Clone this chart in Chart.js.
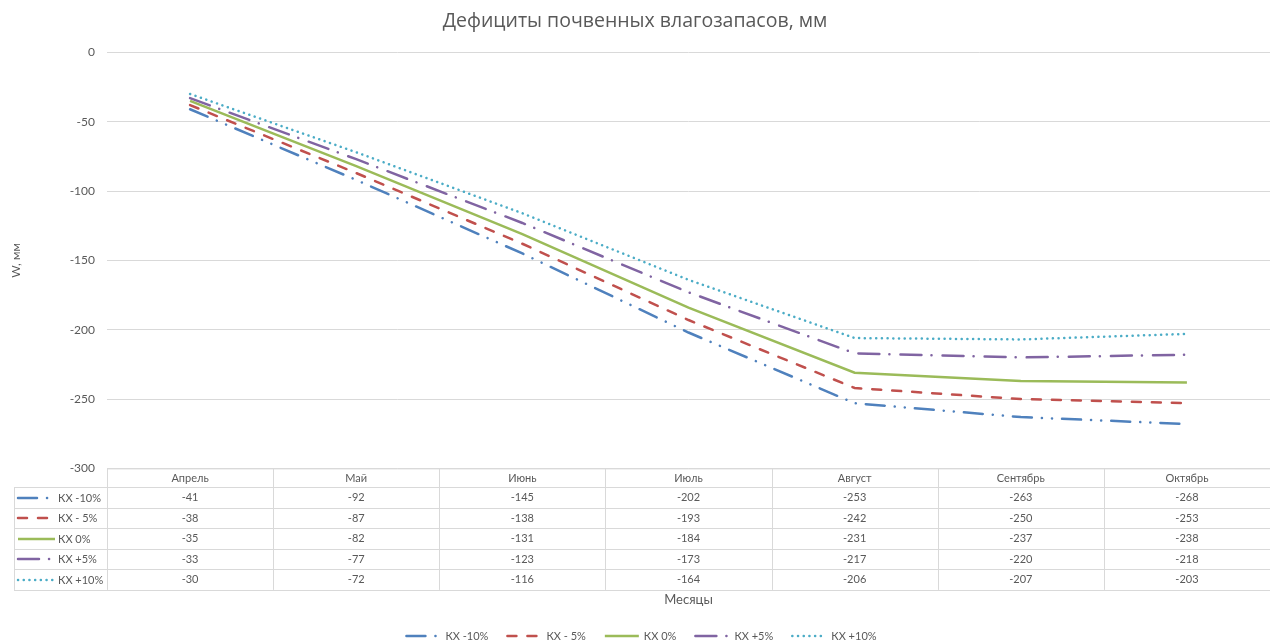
<!DOCTYPE html>
<html>
<head>
<meta charset="utf-8">
<script src="https://cdn.jsdelivr.net/npm/chart.js@4/dist/chart.umd.min.js"></script>
<style>
  html, body { margin: 0; padding: 0; background: #fff; }
</style>
</head>
<body>
<canvas id="deficitChart" width="1271" height="642"></canvas>
<script>
const months = ['Апрель', 'Май', 'Июнь', 'Июль', 'Август', 'Сентябрь', 'Октябрь'];
const seriesNames = ['КХ -10%', 'КХ - 5%', 'КХ 0%', 'КХ +5%', 'КХ +10%'];
const kxMinus10 = [-41, -92, -145, -202, -253, -263, -268];
const kxMinus5 = [-38, -87, -138, -193, -242, -250, -253];
const kx0 = [-35, -82, -131, -184, -231, -237, -238];
const kxPlus5 = [-33, -77, -123, -173, -217, -220, -218];
const kxPlus10 = [-30, -72, -116, -164, -206, -207, -203];

const colors = ['#4f81bd', '#c0504d', '#9bbb59', '#8064a2', '#4bacc6'];
const dashes = [[19, 10, 0.1, 10, 0.1, 10], [9, 11], [], [21, 10, 0.1, 11], [0.1, 5.6]];
const values = [kxMinus10, kxMinus5, kx0, kxPlus5, kxPlus10];

const textColor = '#595959';
const gridColor = '#d9d9d9';
const font = 'Lato, "Open Sans", sans-serif';

function drawKey(ctx, i, x0, x1, y) {
  ctx.save();
  ctx.strokeStyle = colors[i];
  ctx.lineWidth = 2.5;
  ctx.lineCap = dashes[i].length ? 'round' : 'butt';
  ctx.setLineDash(dashes[i]);
  ctx.beginPath();
  ctx.moveTo(x0, y);
  ctx.lineTo(x1, y);
  ctx.stroke();
  ctx.restore();
}

// data table under the plot, columns follow the x scale
const dataTable = {
  id: 'dataTable',
  afterDraw(chart) {
    const ctx = chart.ctx;
    const x = chart.scales.x;
    const area = chart.chartArea;
    const colW = (x.right - x.left) / months.length;
    const top = area.bottom;
    const headH = 19;
    const rowH = 20.5;
    const keyLeft = 14;
    const bottom = top + headH + rowH * seriesNames.length;

    ctx.save();
    ctx.strokeStyle = gridColor;
    ctx.lineWidth = 1;
    ctx.beginPath();
    ctx.moveTo(x.left, top + 0.5);
    ctx.lineTo(x.right, top + 0.5);
    for (let r = 0; r <= seriesNames.length; r++) {
      const y = Math.round(top + headH + r * rowH) + 0.5;
      ctx.moveTo(keyLeft, y);
      ctx.lineTo(x.right, y);
    }
    ctx.moveTo(keyLeft + 0.5, top + headH);
    ctx.lineTo(keyLeft + 0.5, bottom);
    for (let c = 0; c < months.length; c++) {
      const xx = Math.round(x.left + c * colW) + 0.5;
      ctx.moveTo(xx, top);
      ctx.lineTo(xx, bottom);
    }
    ctx.stroke();

    ctx.fillStyle = textColor;
    ctx.font = '11px ' + font;
    ctx.textAlign = 'center';
    ctx.textBaseline = 'middle';
    months.forEach((m, c) => {
      ctx.fillText(m, x.getPixelForValue(c), top + headH / 2 + 1);
    });
    values.forEach((row, r) => {
      const cy = top + headH + r * rowH + rowH / 2;
      row.forEach((v, c) => {
        ctx.fillText(String(v), x.getPixelForValue(c), cy);
      });
    });

    seriesNames.forEach((name, r) => {
      const cy = Math.round(top + headH + r * rowH + rowH / 2);
      drawKey(ctx, r, 18, r === 4 || r === 2 ? 55 : 50, cy);
      ctx.textAlign = 'left';
      ctx.fillText(name, 58, cy);
    });

    // bottom legend
    const keyW = 36, keyGap = 4, itemGap = 18;
    const widths = seriesNames.map(n => keyW + keyGap + ctx.measureText(n).width);
    const total = widths.reduce((a, b) => a + b, 0) + itemGap * (seriesNames.length - 1);
    let lx = 641 - total / 2;
    const ly = 636;
    seriesNames.forEach((name, i) => {
      drawKey(ctx, i, lx + 1, lx + keyW - 1, ly);
      ctx.fillText(name, lx + keyW + keyGap, ly);
      lx += widths[i] + itemGap;
    });
    ctx.restore();
  }
};

const datasets = seriesNames.map((name, i) => ({
  label: name,
  data: values[i],
  borderColor: colors[i],
  backgroundColor: colors[i],
  borderWidth: 2.5,
  borderDash: dashes[i],
  borderCapStyle: dashes[i].length ? 'round' : 'butt',
  pointRadius: 0,
  pointHoverRadius: 0,
  tension: 0,
  fill: false
}));

new Chart(document.getElementById('deficitChart'), {
  type: 'line',
  data: { labels: months, datasets: datasets },
  plugins: [dataTable],
  options: {
    responsive: false,
    animation: false,
    layout: { padding: { left: 0, right: 1, top: 0, bottom: 30 } },
    plugins: {
      title: {
        display: true,
        text: 'Дефициты почвенных влагозапасов, мм',
        color: textColor,
        font: { family: '"Open Sans", sans-serif', size: 19.5, weight: 'normal' },
        padding: { top: 10, bottom: 19 }
      },
      legend: { display: false },
      tooltip: { enabled: false }
    },
    scales: {
      x: {
        offset: true,
        grid: { display: false },
        border: { display: false },
        ticks: { display: false },
        title: {
          display: true,
          text: 'Месяцы',
          color: textColor,
          font: { family: font, size: 13 },
          padding: { top: 116, bottom: 4 }
        }
      },
      y: {
        min: -300,
        max: 0,
        ticks: { stepSize: 50, color: textColor, font: { family: font, size: 12 }, padding: 12 },
        grid: { color: gridColor, drawTicks: false },
        border: { display: false },
        title: {
          display: true,
          text: 'W, мм',
          color: textColor,
          font: { family: font, size: 12 },
          padding: { top: 9, bottom: 0 }
        },
        afterFit(scale) { scale.width = 107; }
      }
    }
  }
});
</script>
</body>
</html>
